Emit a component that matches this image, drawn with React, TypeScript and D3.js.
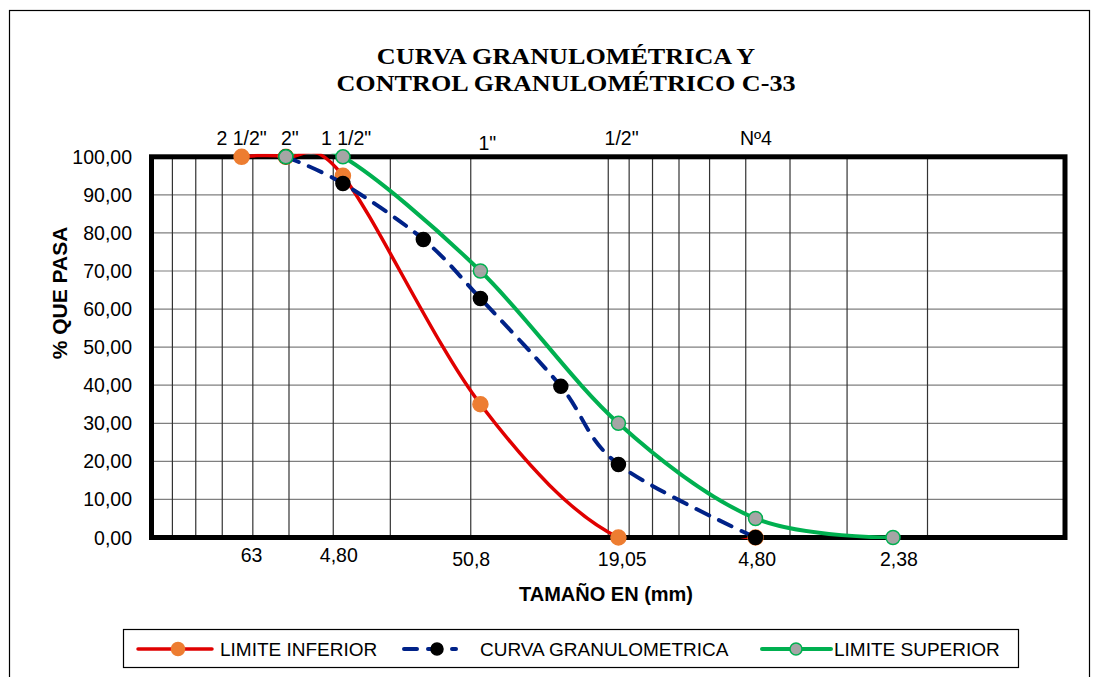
import { useEffect, useRef } from 'react';
import * as d3 from 'd3';

// sieve openings (mm) where each series has a reading
const sizesMm = [63.5, 50.8, 38.1, 25.4, 19.05, 12.7, 9.5, 4.76, 2.38];
const limiteInferior = [100, 100, 95, null, 35, null, 0, 0, null];
const curvaGranulometrica = [null, 100, 93, 78.3, 62.8, 39.7, 19.2, 0, null];
const limiteSuperior = [null, 100, 100, null, 70, null, 30, 5, 0];

const yTicks = [0, 10, 20, 30, 40, 50, 60, 70, 80, 90, 100];

// text boxes above / below the plot (anchored at a size in mm)
const topLabels = ['2 1/2"', '2"', '1 1/2"', '1"', '1/2"', 'Nº4'];
const topLabelMm = [63.5, 49.8, 37.5, 18.4, 9.35, 4.75];
const bottomLabels = ['63', '4,80', '50,8', '19,05', '4,80', '2,38'];
const bottomLabelMm = [60.4, 38.9, 19.95, 9.32, 4.72, 2.31];

const seriesNames = ['LIMITE INFERIOR', 'CURVA GRANULOMETRICA', 'LIMITE SUPERIOR'];

const W = 1099;
const H = 677;
const SANS = "'Liberation Sans', Arial, sans-serif";
const SERIF = "'Liberation Serif', 'Times New Roman', serif";

const App = () => {
  const containerRef = useRef<HTMLDivElement | null>(null);

  useEffect(() => {
    document.body.style.margin = '0';
    if (!containerRef.current) return;
    containerRef.current.innerHTML = '';
    containerRef.current.append(buildChart());
  }, []);

  function buildChart() {
    const left = 151.5;
    const right = 1065;
    const top = 156.8;
    const bottom = 537.5;

    const x = d3.scaleLog().domain([100, 1]).range([left, right]);
    const y = d3.scaleLinear().domain([0, 100]).range([bottom, top]);

    const svg = d3
      .create('svg')
      .attr('width', W)
      .attr('height', H)
      .attr('viewBox', [0, 0, W, H])
      .style('display', 'block')
      .style('background', '#fff');

    // outer chart frame
    svg
      .append('rect')
      .attr('x', 9.5)
      .attr('y', 10.5)
      .attr('width', 1080)
      .attr('height', 720)
      .attr('fill', 'none')
      .attr('stroke', '#000')
      .attr('stroke-width', 1.2);

    // title (Excel renders it a bit wide)
    const title = svg
      .append('text')
      .attr('transform', 'translate(566,0) scale(1.09,1)')
      .attr('text-anchor', 'middle')
      .attr('font-family', SERIF)
      .attr('font-weight', 700)
      .attr('font-size', 24)
      .attr('fill', '#000');
    title.append('tspan').attr('x', 0).attr('y', 64).text('CURVA GRANULOMÉTRICA Y');
    title.append('tspan').attr('x', 0).attr('y', 91).text('CONTROL GRANULOMÉTRICO C-33');

    // grid
    const grid = svg.append('g');
    grid
      .selectAll('line.h')
      .data(yTicks.slice(1, -1))
      .join('line')
      .attr('x1', left)
      .attr('x2', right)
      .attr('y1', d => y(d))
      .attr('y2', d => y(d))
      .attr('stroke', '#7f7f7f')
      .attr('stroke-width', 1.2);
    grid
      .selectAll('line.v')
      .data(x.ticks().filter(d => d > 1 && d < 100))
      .join('line')
      .attr('x1', d => x(d))
      .attr('x2', d => x(d))
      .attr('y1', top)
      .attr('y2', bottom)
      .attr('stroke', '#333')
      .attr('stroke-width', 1.2);

    // plot area border
    svg
      .append('rect')
      .attr('x', left)
      .attr('y', top)
      .attr('width', right - left)
      .attr('height', bottom - top)
      .attr('fill', 'none')
      .attr('stroke', '#000')
      .attr('stroke-width', 5);

    // y tick labels
    svg
      .append('g')
      .attr('font-family', SANS)
      .attr('font-size', 19.5)
      .attr('text-anchor', 'end')
      .selectAll('text')
      .data(yTicks)
      .join('text')
      .attr('x', 132)
      .attr('y', d => y(d) + 7)
      .text(d => d3.format('.2f')(d).replace('.', ','));

    // axis titles
    svg
      .append('text')
      .attr('transform', 'translate(67,293) rotate(-90)')
      .attr('text-anchor', 'middle')
      .attr('font-family', SANS)
      .attr('font-weight', 700)
      .attr('font-size', 21)
      .text('% QUE PASA');
    svg
      .append('text')
      .attr('x', 606)
      .attr('y', 601)
      .attr('text-anchor', 'middle')
      .attr('font-family', SANS)
      .attr('font-weight', 700)
      .attr('font-size', 20)
      .text('TAMAÑO EN (mm)');

    // sieve labels
    svg
      .append('g')
      .attr('font-family', SANS)
      .attr('font-size', 19.5)
      .attr('text-anchor', 'middle')
      .selectAll('text')
      .data(topLabels)
      .join('text')
      .attr('x', (_, i) => x(topLabelMm[i]))
      .attr('y', d => (d === '1"' ? 150 : 145))
      .text(d => d);
    svg
      .append('g')
      .attr('font-family', SANS)
      .attr('font-size', 19.5)
      .attr('text-anchor', 'middle')
      .selectAll('text')
      .data(bottomLabels)
      .join('text')
      .attr('x', (_, i) => x(bottomLabelMm[i]))
      .attr('y', (_, i) => (i < 2 ? 562 : 566))
      .text(d => d);

    // series
    svg
      .append('defs')
      .append('clipPath')
      .attr('id', 'plot-clip')
      .append('rect')
      .attr('x', left)
      .attr('y', top - 3)
      .attr('width', right - left)
      .attr('height', bottom - top + 4.5);

    const series = [
      { name: seriesNames[0], values: limiteInferior, stroke: '#e00000', width: 3.5, dash: null, fill: '#ed7d31', mStroke: '#ed7d31', r: 7.5 },
      { name: seriesNames[1], values: curvaGranulometrica, stroke: '#002288', width: 4, dash: '14 11', fill: '#000', mStroke: '#000', r: 7 },
      { name: seriesNames[2], values: limiteSuperior, stroke: '#00b050', width: 4, dash: null, fill: '#a5a5a5', mStroke: '#00b050', r: 7 },
    ];

    const line = d3
      .line<[number, number]>()
      .curve(d3.curveCardinal.tension(0))
      .x(d => x(d[0]))
      .y(d => y(d[1]));

    series.forEach(s => {
      const pts = sizesMm
        .map((mm, i) => [mm, s.values[i]] as [number, number | null])
        .filter(p => p[1] !== null) as [number, number][];
      const g = svg.append('g');
      g.append('path')
        .attr('clip-path', 'url(#plot-clip)')
        .attr('fill', 'none')
        .attr('stroke', s.stroke)
        .attr('stroke-width', s.width)
        .attr('stroke-dasharray', s.dash)
        .attr('stroke-linecap', s.dash ? 'round' : 'butt')
        .attr('d', line(pts));
      g.selectAll('circle')
        .data(pts)
        .join('circle')
        .attr('cx', d => x(d[0]))
        .attr('cy', d => y(d[1]))
        .attr('r', s.r)
        .attr('fill', s.fill)
        .attr('stroke', s.mStroke)
        .attr('stroke-width', 1.5);
    });

    // legend
    const legend = svg.append('g');
    legend
      .append('rect')
      .attr('x', 123.5)
      .attr('y', 629.5)
      .attr('width', 895)
      .attr('height', 38)
      .attr('fill', '#fff')
      .attr('stroke', '#000')
      .attr('stroke-width', 1.2);
    const items = [
      { x0: 138, x1: 212, mx: 178, tx: 220 },
      { x0: 404, x1: 456, mx: 437, tx: 480 },
      { x0: 762, x1: 831, mx: 796, tx: 834 },
    ];
    series.forEach((s, i) => {
      const it = items[i];
      legend
        .append('line')
        .attr('x1', it.x0)
        .attr('x2', it.x1)
        .attr('y1', 649)
        .attr('y2', 649)
        .attr('stroke', s.stroke)
        .attr('stroke-width', s.width)
        .attr('stroke-dasharray', s.dash ? '13 11' : null)
        .attr('stroke-linecap', 'round');
      legend
        .append('circle')
        .attr('cx', it.mx)
        .attr('cy', 649)
        .attr('r', s.r - 1)
        .attr('fill', s.fill)
        .attr('stroke', s.mStroke)
        .attr('stroke-width', 1.5);
      legend
        .append('text')
        .attr('x', it.tx)
        .attr('y', 656)
        .attr('font-family', SANS)
        .attr('font-size', 19)
        .text(s.name);
    });

    return svg.node() as Node;
  }

  return <div ref={containerRef} />;
};

export default App;
